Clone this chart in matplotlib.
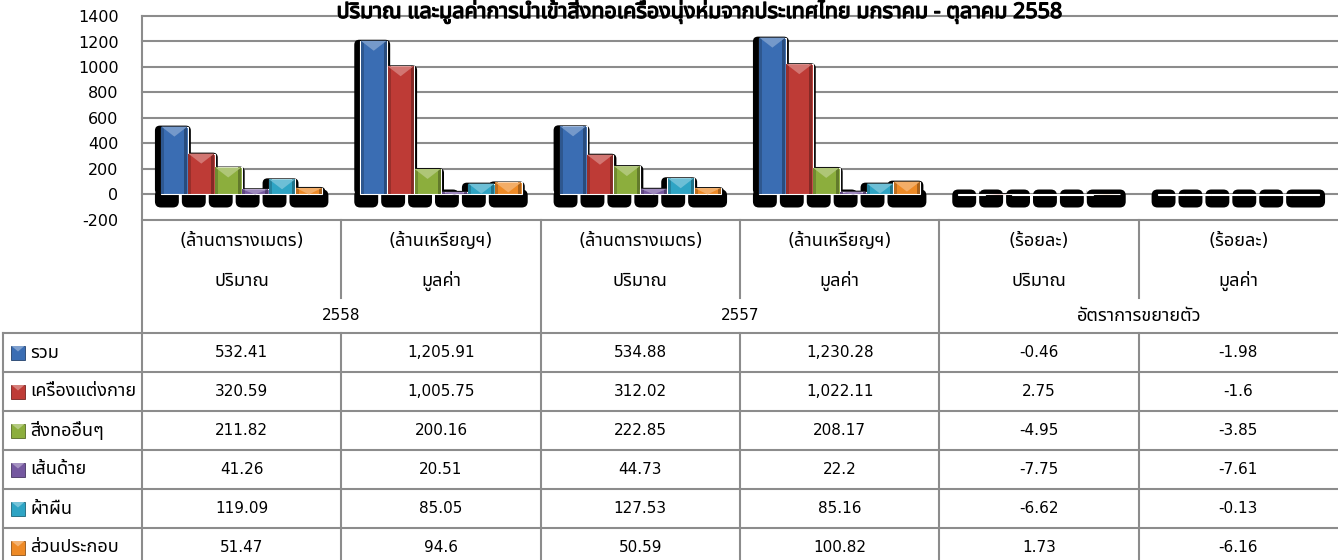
import matplotlib
matplotlib.use("Agg")
import matplotlib.pyplot as plt
from matplotlib import font_manager, colors as mcolors
from matplotlib import patheffects as pe
from matplotlib.patches import FancyBboxPatch, Rectangle, Polygon
from fontTools.ttLib import TTFont


# find a font that has Thai glyphs, digits stay in DejaVu Sans
def thai_families():
    found = []
    for f in font_manager.fontManager.ttflist:
        if f.name in found:
            continue
        try:
            cmap = TTFont(f.fname, fontNumber=0, lazy=True).getBestCmap()
        except Exception:
            continue
        if cmap and 0x0E01 in cmap:
            found.append(f.name)
    pref = ['Tahoma', 'Leelawadee UI', 'Noto Sans Thai', 'Noto Sans Thai UI', 'Loma', 'Garuda', 'Sarabun']
    found.sort(key=lambda n: pref.index(n) if n in pref else len(pref))
    return found


thai_fams = thai_families()
plt.rcParams['font.family'] = ['DejaVu Sans'] + thai_fams
plt.rcParams['axes.unicode_minus'] = False

# data
title = "ปริมาณ และมูลค่าการนำเข้าสิ่งทอเครื่องนุ่งห่มจากประเทศไทย มกราคม - ตุลาคม 2558"
units = ["(ล้านตารางเมตร)", "(ล้านเหรียญฯ)", "(ล้านตารางเมตร)", "(ล้านเหรียญฯ)", "(ร้อยละ)", "(ร้อยละ)"]
measures = ["ปริมาณ", "มูลค่า", "ปริมาณ", "มูลค่า", "ปริมาณ", "มูลค่า"]
groups = ["2558", "2557", "อัตราการขยายตัว"]
series_names = ["รวม", "เครื่องแต่งกาย", "สิ่งทออื่นๆ", "เส้นด้าย", "ผ้าผืน", "ส่วนประกอบ"]
total = [532.41, 1205.91, 534.88, 1230.28, -0.46, -1.98]
apparel = [320.59, 1005.75, 312.02, 1022.11, 2.75, -1.6]
other = [211.82, 200.16, 222.85, 208.17, -4.95, -3.85]
yarn = [41.26, 20.51, 44.73, 22.2, -7.75, -7.61]
fabric = [119.09, 85.05, 127.53, 85.16, -6.62, -0.13]
parts = [51.47, 94.6, 50.59, 100.82, 1.73, -6.16]
series_values = [total, apparel, other, yarn, fabric, parts]
colors = ['#3a6db3', '#be3b36', '#8cae3d', '#7558a0', '#2ea4c4', '#ee8a26']

W, H = 1338, 560
fig = plt.figure(figsize=(W / 100, H / 100), dpi=100)
grid_c = '#8c8c8c'

# table / frame layer in pixel coords
tab = fig.add_axes([0, 0, 1, 1])
tab.set_xlim(0, W)
tab.set_ylim(H, 0)
tab.axis('off')
tab.set_zorder(0)

ax = fig.add_axes([142 / W, 1 - 220 / H, 1 - 142 / W, 204 / H])
ax.set_zorder(1)
ax.patch.set_alpha(0)
ax.set_xlim(-0.5, 5.5)
ax.set_ylim(-200, 1400)
yt = list(range(-200, 1401, 200))
ax.set_yticks(yt)
ax.set_xticks([])
ax.tick_params(axis='y', length=0, pad=17, labelsize=11.5)
for s in ax.spines.values():
    s.set_visible(False)
for t in yt:
    ax.axhline(t, color=grid_c, lw=1.5, zorder=0, clip_on=False)

PX = 6 / (W - 142)
PY = 1600 / 204
bw = 0.135
asp = PY / PX


def shade(c, f):
    r = mcolors.to_rgb(c)
    if f > 0:
        return tuple(x + (1 - x) * f for x in r)
    return tuple(x * (1 + f) for x in r)


# shadows first
for i, vals in enumerate(series_values):
    for j, v in enumerate(vals):
        left = j + (i - 3) * bw
        if v > 0:
            ax.add_patch(FancyBboxPatch((left - 6 * PX, 0), bw + 9 * PX, v + 1 * PY,
                                        boxstyle=f"round,pad=0,rounding_size={5 * PX}",
                                        mutation_aspect=asp, fc='black', ec='none', zorder=2))
        right_ext = 6 * PX if i == 5 else -9 * PX
        ax.add_patch(FancyBboxPatch((left - 6 * PX, -13 * PY), bw + 6 * PX + right_ext, 18 * PY,
                                    boxstyle=f"round,pad=0,rounding_size={6 * PX}",
                                    mutation_aspect=asp, fc='black', ec='none', zorder=2))

# bars with bevel
for i, vals in enumerate(series_values):
    c = colors[i]
    for j, v in enumerate(vals):
        left = j + (i - 3) * bw
        ax.add_patch(Rectangle((left, 0), bw, v, fc=c, ec='white', lw=0.8, zorder=3))
        if v > 0:
            ax.add_patch(Rectangle((left + 0.5 * PX, 0), 3 * PX, v, fc=shade(c, -0.2), ec='none', zorder=3))
            ax.add_patch(Rectangle((left + bw - 3.5 * PX, 0), 3 * PX, v, fc=shade(c, -0.3), ec='none', zorder=3))
            th = min(10 * PY, v)
            ax.add_patch(Polygon([(left + 0.5 * PX, v), (left + bw - 0.5 * PX, v), (left + bw / 2, v - th)],
                                 fc=shade(c, 0.3), ec='none', zorder=3))

# table lines
lw = 1.5
tab.plot([142, 142], [16, H], color=grid_c, lw=lw)
tab.plot([3, W], [333, 333], color=grid_c, lw=lw)
row_h = 39
for k in range(1, 6):
    tab.plot([3, W], [333 + k * row_h, 333 + k * row_h], color=grid_c, lw=lw)
tab.plot([3, 3], [333, H], color=grid_c, lw=lw)
col_edges = [142 + k * (W - 142) / 6 for k in range(7)]
for k in range(1, 6):
    x = col_edges[k]
    if k % 2 == 0:
        tab.plot([x, x], [220, H], color=grid_c, lw=lw)
    else:
        tab.plot([x, x], [220, 298], color=grid_c, lw=lw)
        tab.plot([x, x], [333, H], color=grid_c, lw=lw)


def cell(x, y, s, ha='center'):
    thai = any('\u0e00' <= ch <= '\u0e7f' for ch in s)
    tab.text(x, y, s, ha=ha, va='center', fontsize=13 if thai else 11)


centers = [(col_edges[k] + col_edges[k + 1]) / 2 for k in range(6)]
for k in range(6):
    cell(centers[k], 241, units[k])
    cell(centers[k], 281, measures[k])
for g in range(3):
    cell((col_edges[2 * g] + col_edges[2 * g + 2]) / 2, 316, groups[g])

for i, name in enumerate(series_names):
    yc = 333 + i * row_h + row_h / 2
    c = colors[i]
    tab.add_patch(Rectangle((11, yc - 7), 14, 14, fc=c, ec=shade(c, -0.4), lw=0.6))
    tab.add_patch(Polygon([(11.5, yc - 6.5), (24.5, yc - 6.5), (18, yc - 1)], fc=shade(c, 0.35), ec='none'))
    cell(30, yc, name, ha='left')
    for k in range(6):
        cell(centers[k], yc, f"{series_values[i][k]:,}")

fig.text(699 / W, 1 - 18 / H, title, ha='center', va='baseline', fontsize=15.5, fontweight='bold',
         family=thai_fams + ['DejaVu Sans'],
         path_effects=[pe.withStroke(linewidth=0.9, foreground='black')])

fig.savefig('out.png', dpi=100)
